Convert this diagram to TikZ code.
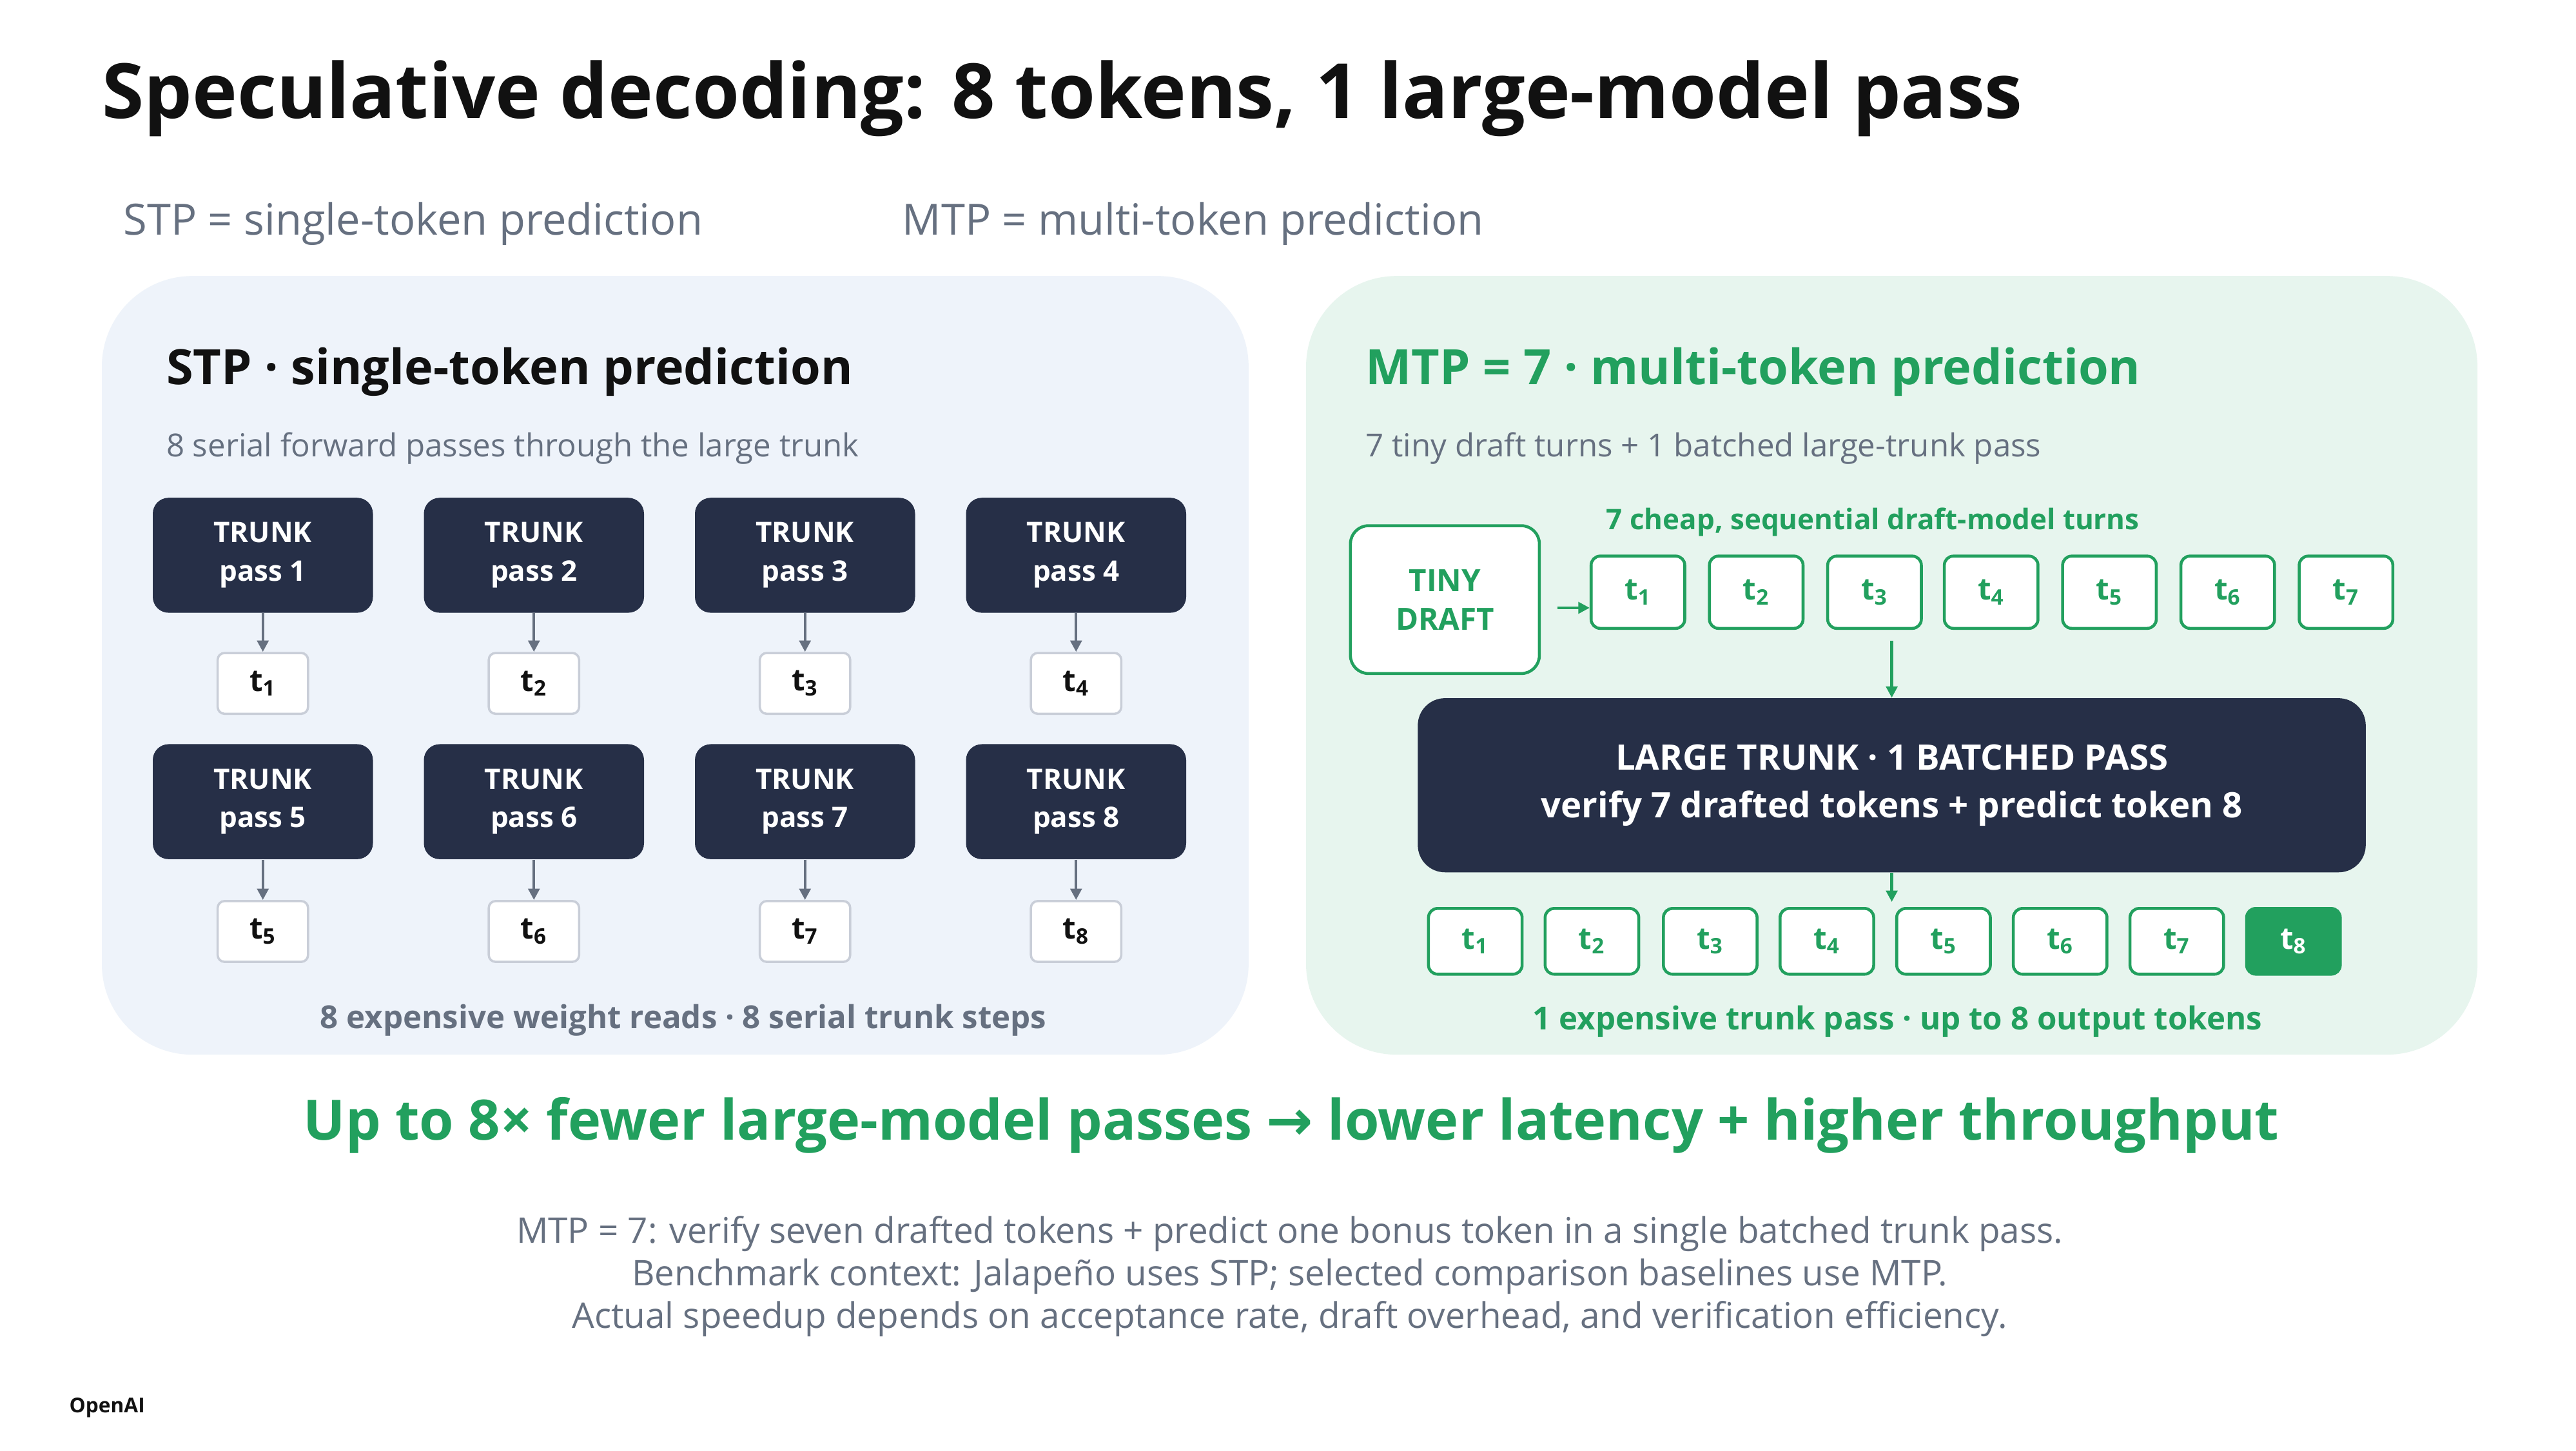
\documentclass[tikz,border=0pt]{standalone}
\usepackage{fontspec}
\setmainfont{Open Sans}
\newfontfamily\sym{DejaVu Sans}
\usetikzlibrary{arrows.meta}
\definecolor{navy}{HTML}{262F47}
\definecolor{ink}{HTML}{111111}
\definecolor{gry}{HTML}{667080}
\definecolor{grn}{HTML}{22A05E}
\definecolor{lblue}{HTML}{EEF3FA}
\definecolor{lgreen}{HTML}{E7F5EE}
\definecolor{tbord}{HTML}{C9CED8}
\newcommand{\tk}[1]{t\textsubscript{#1}}
\begin{document}
\begin{tikzpicture}[x=0.02548cm,y=-0.02548cm,
  trunk/.style={fill=navy,rounded corners=7pt,minimum width=134*0.02548cm,minimum height=70*0.02548cm,align=center,text=white,font=\fontsize{12.5}{17}\selectfont\bfseries},
  tok/.style={fill=white,draw=tbord,line width=1pt,rounded corners=3pt,minimum width=55*0.02548cm,minimum height=37*0.02548cm,font=\fontsize{13.5}{16}\selectfont\bfseries,text=ink},
  gtok/.style={fill=white,draw=grn,line width=1.3pt,rounded corners=4pt,minimum width=57*0.02548cm,minimum height=44*0.02548cm,font=\fontsize{13.5}{16}\selectfont\bfseries,text=grn},
  garr/.style={-{Triangle[length=5pt,width=5pt]},gry,line width=1.2pt},
  narr/.style={-{Triangle[length=5pt,width=5pt]},grn,line width=1.2pt},
]
\useasboundingbox (0,0) rectangle (1568,883);
\fill[white] (0,0) rectangle (1568,883);
\node[anchor=base west,text=ink,font=\fontsize{33.6}{36}\selectfont\bfseries,inner sep=0] (title) at (62,72) {Speculative decoding: 8 tokens, 1 large-model pass};
\node[anchor=base west,text=gry,font=\fontsize{19}{22}\selectfont,inner sep=0] (l1) at (75,143) {STP = single-token prediction};
\node[anchor=base west,text=gry,font=\fontsize{19}{22}\selectfont,inner sep=0] (l2) at (549,143) {MTP = multi-token prediction};
% panels
\fill[lblue,rounded corners=40pt] (62,168) rectangle (760,642);
\fill[lgreen,rounded corners=40pt] (795,168) rectangle (1508,642);
\node[anchor=base west,text=ink,font=\fontsize{21.5}{24}\selectfont\bfseries,inner sep=0] (sh) at (101,234) {STP · single-token prediction};
\node[anchor=base west,text=gry,font=\fontsize{14}{16}\selectfont,inner sep=0] (ss) at (101,278) {8 serial forward passes through the large trunk};
\foreach \i/\x in {1/160,2/325,3/490,4/655}{
  \node[trunk] (T\i) at (\x,338) {TRUNK\\pass \i};
  \node[tok] (k\i) at (\x,416) {\tk{\i}};
  \draw[garr] (T\i.south) -- (k\i.north);
}
\foreach \i/\x in {5/160,6/325,7/490,8/655}{
  \node[trunk] (T\i) at (\x,488) {TRUNK\\pass \i};
  \node[tok] (k\i) at (\x,567) {\tk{\i}};
  \draw[garr] (T\i.south) -- (k\i.north);
}
\node[text=gry,font=\fontsize{14}{16}\selectfont\bfseries] (sf) at (416,621) {8 expensive weight reads · 8 serial trunk steps};
% right
\node[anchor=base west,text=grn,font=\fontsize{21.5}{24}\selectfont\bfseries,inner sep=0] (mh) at (831,234) {MTP = 7 · multi-token prediction};
\node[anchor=base west,text=gry,font=\fontsize{14}{16}\selectfont,inner sep=0] (ms) at (831,278) {7 tiny draft turns + 1 batched large-trunk pass};
\node[fill=white,draw=grn,line width=1.3pt,rounded corners=8pt,minimum width=115*0.02548cm,minimum height=90*0.02548cm,align=center,text=grn,font=\fontsize{13.5}{17}\selectfont\bfseries] (td) at (879.5,365) {TINY\\DRAFT};
\node[text=grn,font=\fontsize{12.5}{15}\selectfont\bfseries] (cl) at (1140,318) {7 cheap, sequential draft-model turns};
\foreach \i/\x in {1/997,2/1069,3/1141,4/1212,5/1284,6/1356,7/1428}{
  \node[gtok] (d\i) at (\x,360.5) {\tk{\i}};
}
\draw[narr] (td.east) ++(10,5) coordinate (ta) -- (d1.west |- ta);
\node[fill=navy,rounded corners=12pt,minimum width=577*0.02548cm,minimum height=106*0.02548cm,align=center,text=white,font=\fontsize{15.5}{21}\selectfont\bfseries] (LT) at (1151.5,478) {LARGE TRUNK · 1 BATCHED PASS\\verify 7 drafted tokens + predict token 8};
\coordinate (ain) at (1151.5,390);
\draw[narr] (ain) -- (LT.north);
\foreach \i/\x in {1/898,2/969,3/1041,4/1112,5/1183,6/1254,7/1325}{
  \node[gtok,minimum height=40*0.02548cm] (o\i) at (\x,573) {\tk{\i}};
}
\node[gtok,minimum height=40*0.02548cm,fill=grn,text=white] (o8) at (1396,573) {\tk{8}};
\coordinate (aout) at (1151.5,549);
\draw[narr] (LT.south) -- (aout);
\node[text=grn,font=\fontsize{14}{16}\selectfont\bfseries] (mf) at (1155,622) {1 expensive trunk pass · up to 8 output tokens};
\node[text=grn,font=\fontsize{24.6}{30}\selectfont\bfseries] (big) at (786,685) {Up to 8× fewer large-model passes {\sym\bfseries →} lower latency + higher throughput};
\node[text=gry,align=center,font=\fontsize{15.6}{18.8}\selectfont] (notes) at (785,777) {MTP = 7: verify seven drafted tokens + predict one bonus token in a single batched trunk pass.\\Benchmark context: Jalapeño uses STP; selected comparison baselines use MTP.\\Actual speedup depends on acceptance rate, draft overhead, and verification efficiency.};
\node[anchor=base west,inner sep=0,text=ink,font=\fontsize{9}{10}\selectfont\bfseries] (oa) at (42,860) {OpenAI};
\end{tikzpicture}
\end{document}
